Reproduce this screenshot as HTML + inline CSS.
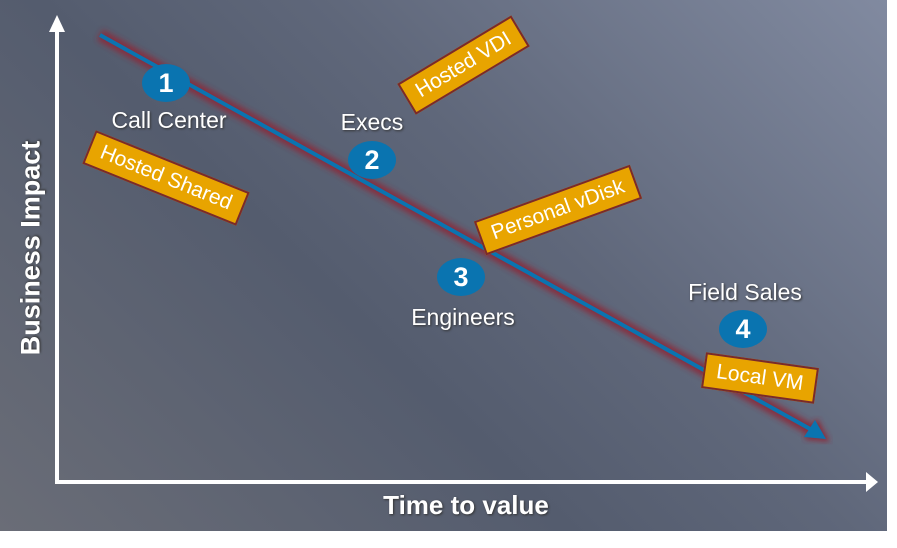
<!DOCTYPE html>
<html><head><style>
body{margin:0;width:897px;height:548px;background:#fff;overflow:hidden;font-family:"Liberation Sans",sans-serif}
.bg{position:absolute;left:0;top:0;width:887px;height:531px;background:linear-gradient(225deg,#818aa0 0%,#5f677a 40%,#545c6e 60%,#6a6d77 100%)}
.t{position:absolute;color:#fff;font-size:23px;text-shadow:1px 1px 2px #333;white-space:nowrap;transform:translateX(-50%)}
.c{position:absolute;width:48px;height:38px;border-radius:50%;background:#0a74b0;color:#fff;font:bold 27px "Liberation Sans",sans-serif;text-align:center;line-height:38px}
.b{position:absolute;background:#e8a400;border:2px solid #7a2a2a;color:#fff;font-size:21px;padding:4px 11px;white-space:nowrap;transform-origin:center}
</style></head><body>
<div class="bg"></div>
<svg width="897" height="548" style="position:absolute;left:0;top:0">
<defs><filter id="g"><feGaussianBlur stdDeviation="3"/></filter></defs>
<line x1="100" y1="35" x2="815" y2="432" stroke="#8a2a3a" stroke-width="12" filter="url(#g)" opacity="0.9"/>
<polygon points="830,442 804,439 817,418" fill="#8a2a3a" filter="url(#g)"/>
<line x1="100" y1="35" x2="812" y2="430" stroke="#0a74b0" stroke-width="4"/>
<polygon points="826,439 804,437 815,420" fill="#0a74b0"/>
<line x1="57" y1="482" x2="57" y2="28" stroke="#fff" stroke-width="4"/>
<polygon points="57,15 49,32 65,32" fill="#fff"/>
<line x1="55" y1="482" x2="866" y2="482" stroke="#fff" stroke-width="4"/>
<polygon points="878,482 866,472 866,492" fill="#fff"/>
</svg>
<div class="t" style="left:169px;top:107px">Call Center</div>
<div class="t" style="left:372px;top:109px">Execs</div>
<div class="t" style="left:463px;top:304px">Engineers</div>
<div class="t" style="left:745px;top:279px">Field Sales</div>
<div class="c" style="left:142px;top:64px">1</div>
<div class="c" style="left:348px;top:141px">2</div>
<div class="c" style="left:437px;top:258px">3</div>
<div class="c" style="left:719px;top:310px">4</div>
<div class="b" style="left:83px;top:160px;transform:rotate(22deg)">Hosted Shared</div>
<div class="b" style="left:397px;top:47px;transform:rotate(-31deg)">Hosted VDI</div>
<div class="b" style="left:475px;top:192px;transform:rotate(-20deg)">Personal vDisk</div>
<div class="b" style="left:703px;top:360px;transform:rotate(8deg)">Local VM</div>
<div style="position:absolute;left:466px;top:490px;color:#fff;font-weight:bold;font-size:26px;transform:translateX(-50%);white-space:nowrap;text-shadow:1px 1px 2px #333">Time to value</div>
<div style="position:absolute;left:31px;top:248px;color:#fff;font-weight:bold;font-size:27px;transform:translate(-50%,-50%) rotate(-90deg);white-space:nowrap;text-shadow:1px 1px 2px #333">Business Impact</div>
</body></html>
